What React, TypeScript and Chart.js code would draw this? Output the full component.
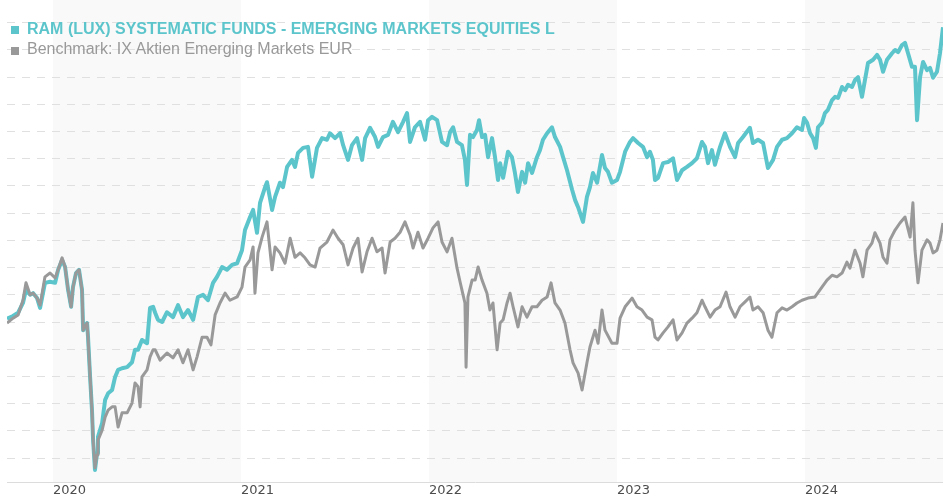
import React, { useEffect, useRef } from "react";
import { Chart, registerables } from "chart.js";

Chart.register(...registerables);

// ---- data (x = fractional year, y = indexed value, start = 100) ----
const ramDates = [
  2019.755, 2019.787, 2019.814, 2019.84, 2019.856, 2019.878, 2019.894, 2019.915, 2019.931, 2019.957,
  2019.984, 2020.011, 2020.027, 2020.048, 2020.064, 2020.08, 2020.096, 2020.106, 2020.122, 2020.138,
  2020.154, 2020.16, 2020.181, 2020.186, 2020.197, 2020.207, 2020.213, 2020.223, 2020.234, 2020.239,
  2020.261, 2020.277, 2020.293, 2020.314, 2020.33, 2020.346, 2020.367, 2020.394, 2020.42, 2020.436,
  2020.452, 2020.473, 2020.5, 2020.516, 2020.532, 2020.543, 2020.558, 2020.58, 2020.606, 2020.638,
  2020.665, 2020.691, 2020.718, 2020.745, 2020.771, 2020.798, 2020.824, 2020.851, 2020.872, 2020.899,
  2020.925, 2020.952, 2020.979, 2021.005, 2021.021, 2021.048, 2021.064, 2021.085, 2021.101, 2021.128,
  2021.138, 2021.165, 2021.181, 2021.207, 2021.223, 2021.245, 2021.271, 2021.287, 2021.303, 2021.33,
  2021.356, 2021.378, 2021.404, 2021.431, 2021.457, 2021.473, 2021.5, 2021.527, 2021.543, 2021.569,
  2021.59, 2021.617, 2021.644, 2021.66, 2021.686, 2021.713, 2021.729, 2021.755, 2021.782, 2021.808,
  2021.835, 2021.862, 2021.883, 2021.899, 2021.925, 2021.952, 2021.979, 2021.995, 2022.016, 2022.043,
  2022.069, 2022.096, 2022.112, 2022.128, 2022.149, 2022.175, 2022.191, 2022.202, 2022.218, 2022.234,
  2022.255, 2022.266, 2022.282, 2022.298, 2022.314, 2022.335, 2022.351, 2022.367, 2022.378, 2022.394,
  2022.42, 2022.441, 2022.457, 2022.473, 2022.495, 2022.511, 2022.527, 2022.548, 2022.574, 2022.59,
  2022.606, 2022.628, 2022.654, 2022.67, 2022.697, 2022.713, 2022.734, 2022.761, 2022.777, 2022.793,
  2022.819, 2022.84, 2022.856, 2022.872, 2022.894, 2022.92, 2022.936, 2022.952, 2022.973, 2023.0,
  2023.016, 2023.043, 2023.069, 2023.085, 2023.112, 2023.138, 2023.16, 2023.175, 2023.191, 2023.202,
  2023.218, 2023.245, 2023.271, 2023.298, 2023.319, 2023.346, 2023.372, 2023.399, 2023.425, 2023.452,
  2023.468, 2023.484, 2023.505, 2023.521, 2023.548, 2023.574, 2023.601, 2023.628, 2023.644, 2023.67,
  2023.707, 2023.723, 2023.75, 2023.777, 2023.803, 2023.83, 2023.851, 2023.878, 2023.904, 2023.931,
  2023.957, 2023.984, 2023.995, 2024.011, 2024.027, 2024.043, 2024.058, 2024.069, 2024.09, 2024.106,
  2024.122, 2024.144, 2024.16, 2024.176, 2024.197, 2024.213, 2024.229, 2024.25, 2024.266, 2024.282,
  2024.303, 2024.319, 2024.335, 2024.362, 2024.383, 2024.399, 2024.415, 2024.436, 2024.463, 2024.479,
  2024.495, 2024.516, 2024.532, 2024.548, 2024.569, 2024.585, 2024.596, 2024.612, 2024.628, 2024.649,
  2024.665, 2024.681, 2024.702, 2024.718, 2024.734,
];
const ramValues = [
  100.6, 101.1, 101.7, 103.5, 105.9, 105.0, 105.3, 104.4, 102.6, 107.2,
  107.4, 107.2, 109.6, 111.4, 110.1, 105.9, 102.8, 106.4, 109.0, 109.6,
  105.9, 98.5, 99.8, 97.2, 89.9, 83.8, 78.3, 72.8, 75.9, 78.9,
  81.4, 85.7, 86.9, 87.5, 89.9, 91.2, 91.5, 91.7, 92.6, 94.9,
  94.9, 96.7, 96.1, 102.6, 102.8, 101.7, 100.4, 100.0, 101.8, 100.9,
  103.1, 100.9, 102.2, 100.4, 104.6, 105.0, 104.0, 107.2, 108.3, 110.1,
  109.6, 110.5, 110.8, 113.2, 116.9, 119.3, 120.6, 116.4, 121.9, 124.8,
  125.7, 120.6, 123.0, 125.6, 124.8, 128.5, 129.8, 128.5, 131.1, 132.0,
  132.2, 126.7, 132.0, 133.8, 133.5, 134.7, 133.8, 134.7, 132.5, 129.8,
  132.5, 133.8, 129.8, 133.8, 135.7, 134.0, 132.2, 134.0, 134.4, 136.8,
  134.9, 136.8, 138.4, 133.1, 135.8, 136.8, 133.5, 137.1, 137.7, 137.1,
  133.1, 132.5, 134.9, 135.8, 133.1, 132.5, 129.8, 125.2, 134.4, 134.0,
  135.3, 137.1, 134.0, 134.4, 130.3, 133.8, 130.3, 126.1, 129.2, 126.5,
  131.3, 130.3, 127.4, 123.9, 127.6, 125.6, 129.2, 127.4, 130.3, 131.6,
  133.5, 134.7, 135.8, 134.0, 132.2, 130.3, 127.9, 124.3, 122.4, 121.1,
  118.4, 123.0, 124.8, 127.4, 125.6, 130.7, 128.3, 127.6, 125.6, 126.1,
  127.6, 131.3, 133.1, 133.8, 132.9, 132.2, 130.3, 131.3, 129.8, 126.1,
  126.5, 129.2, 129.4, 130.1, 126.1, 127.9, 128.5, 129.2, 130.1, 133.1,
  132.2, 129.2, 131.6, 128.9, 132.2, 134.7, 132.2, 130.3, 132.9, 134.0,
  135.7, 132.9, 133.5, 132.9, 128.3, 129.8, 132.2, 133.5, 133.8, 134.7,
  135.8, 135.3, 137.5, 136.6, 134.7, 133.8, 132.0, 135.8, 136.6, 138.4,
  139.0, 140.8, 141.4, 141.2, 143.2, 142.6, 143.6, 143.2, 144.5, 145.0,
  141.4, 144.5, 147.6, 148.2, 149.1, 148.2, 146.0, 148.2, 149.4, 150.0,
  149.6, 150.9, 151.3, 149.4, 146.9, 146.9, 137.1, 145.0, 147.8, 146.3,
  146.7, 144.9, 146.0, 149.4, 154.2,
];

const benchDates = [
  2019.755, 2019.787, 2019.814, 2019.84, 2019.856, 2019.878, 2019.894, 2019.915, 2019.931, 2019.957,
  2019.984, 2020.011, 2020.027, 2020.048, 2020.064, 2020.08, 2020.096, 2020.106, 2020.122, 2020.138,
  2020.154, 2020.16, 2020.181, 2020.186, 2020.197, 2020.207, 2020.213, 2020.223, 2020.234, 2020.239,
  2020.261, 2020.277, 2020.293, 2020.314, 2020.33, 2020.346, 2020.367, 2020.394, 2020.42, 2020.436,
  2020.452, 2020.463, 2020.473, 2020.5, 2020.516, 2020.532, 2020.543, 2020.558, 2020.569, 2020.606,
  2020.638, 2020.665, 2020.691, 2020.718, 2020.745, 2020.766, 2020.793, 2020.819, 2020.84, 2020.862,
  2020.888, 2020.915, 2020.941, 2020.979, 2021.005, 2021.021, 2021.048, 2021.064, 2021.074, 2021.09,
  2021.112, 2021.138, 2021.165, 2021.181, 2021.207, 2021.234, 2021.261, 2021.287, 2021.314, 2021.34,
  2021.367, 2021.394, 2021.42, 2021.457, 2021.489, 2021.516, 2021.543, 2021.569, 2021.596, 2021.622,
  2021.644, 2021.67, 2021.697, 2021.723, 2021.75, 2021.766, 2021.793, 2021.819, 2021.846, 2021.872,
  2021.899, 2021.915, 2021.941, 2021.968, 2021.995, 2022.021, 2022.048, 2022.069, 2022.096, 2022.122,
  2022.149, 2022.165, 2022.181, 2022.191, 2022.197, 2022.207, 2022.229, 2022.245, 2022.261, 2022.282,
  2022.308, 2022.324, 2022.34, 2022.362, 2022.378, 2022.394, 2022.415, 2022.431, 2022.447, 2022.473,
  2022.495, 2022.521, 2022.548, 2022.574, 2022.601, 2022.628, 2022.649, 2022.67, 2022.697, 2022.723,
  2022.75, 2022.766, 2022.793, 2022.814, 2022.84, 2022.856, 2022.883, 2022.899, 2022.92, 2022.936,
  2022.973, 2023.0, 2023.016, 2023.043, 2023.08, 2023.106, 2023.133, 2023.16, 2023.186, 2023.202,
  2023.218, 2023.245, 2023.271, 2023.298, 2023.319, 2023.346, 2023.372, 2023.399, 2023.425, 2023.452,
  2023.468, 2023.495, 2023.521, 2023.548, 2023.58, 2023.601, 2023.628, 2023.654, 2023.681, 2023.707,
  2023.723, 2023.75, 2023.777, 2023.803, 2023.824, 2023.851, 2023.878, 2023.904, 2023.931, 2023.957,
  2023.984, 2024.016, 2024.053, 2024.09, 2024.117, 2024.144, 2024.17, 2024.197, 2024.223, 2024.239,
  2024.266, 2024.293, 2024.308, 2024.33, 2024.356, 2024.372, 2024.399, 2024.415, 2024.436, 2024.452,
  2024.479, 2024.505, 2024.532, 2024.559, 2024.574, 2024.585, 2024.601, 2024.622, 2024.649, 2024.665,
  2024.681, 2024.702, 2024.718, 2024.734,
];
const benchValues = [
  99.8, 100.7, 101.3, 104.0, 107.2, 105.0, 105.3, 104.4, 103.1, 108.3,
  109.0, 108.1, 109.6, 111.8, 110.1, 105.9, 102.8, 106.4, 109.0, 109.6,
  105.9, 98.5, 99.8, 97.2, 89.9, 83.8, 78.3, 73.2, 75.6, 78.3,
  80.1, 82.5, 83.8, 84.4, 84.4, 80.7, 83.3, 83.3, 85.1, 88.8,
  88.1, 84.4, 89.9, 91.2, 93.6, 94.9, 94.9, 93.8, 93.0, 94.3,
  93.4, 94.9, 92.5, 94.9, 91.2, 93.6, 97.2, 97.2, 95.8, 101.3,
  103.5, 105.3, 104.0, 104.6, 106.4, 110.1, 111.4, 113.8, 105.3, 112.7,
  115.6, 118.4, 109.6, 113.8, 112.7, 110.8, 115.4, 111.9, 112.7, 111.8,
  110.5, 110.1, 113.6, 114.7, 116.9, 115.4, 114.2, 110.5, 113.6, 115.4,
  109.2, 112.9, 115.4, 112.9, 113.6, 109.0, 114.7, 115.4, 116.5, 118.4,
  116.0, 113.6, 116.5, 113.6, 115.4, 117.3, 118.4, 114.7, 112.9, 115.4,
  109.9, 107.4, 105.0, 103.5, 91.7, 104.6, 107.7, 107.7, 110.1, 107.7,
  105.3, 102.2, 103.5, 94.9, 99.8, 100.4, 103.5, 105.3, 102.8, 99.1,
  102.8, 100.9, 102.8, 102.8, 104.0, 104.6, 107.2, 103.5, 102.2, 99.8,
  94.9, 92.5, 90.6, 87.5, 92.5, 95.4, 98.5, 96.1, 102.2, 98.5,
  96.1, 96.1, 100.7, 102.8, 104.4, 102.8, 102.2, 100.9, 100.4, 97.2,
  96.7, 98.0, 99.1, 100.4, 96.7, 98.0, 99.8, 100.7, 101.7, 104.0,
  102.8, 100.9, 102.2, 102.8, 105.5, 102.8, 100.9, 102.8, 103.7, 104.6,
  102.2, 102.8, 101.7, 98.5, 97.2, 101.7, 102.6, 102.2, 102.8, 103.5,
  104.0, 104.4, 104.6, 106.4, 107.7, 108.6, 108.3, 109.0, 111.0, 109.9,
  113.2, 110.8, 108.3, 113.2, 114.5, 116.4, 114.5, 111.9, 110.8, 115.1,
  116.9, 118.2, 119.3, 115.6, 121.9, 113.2, 107.2, 113.2, 115.1, 114.5,
  112.7, 113.2, 115.1, 118.2,
];

const yearTicks = [2020, 2021, 2022, 2023, 2024];
const shadedYears = [2020, 2022, 2024];
const gridValues = [75, 80, 85, 90, 95, 100, 105, 110, 115, 120, 125, 130, 135, 140, 145, 150, 155];

const RAM_LABEL = "RAM (LUX) SYSTEMATIC FUNDS - EMERGING MARKETS EQUITIES L";
const BENCH_LABEL = "Benchmark: IX Aktien Emerging Markets EUR";

const TEAL = "#5cc5cc";
const GREY = "#999999";
const BAND = "#f9f9f9";

const bandPlugin = {
  id: "yearBands",
  beforeDraw(chart: any) {
    const { ctx, chartArea, scales } = chart;
    const x = scales.x;
    ctx.save();
    ctx.fillStyle = BAND;
    for (const yr of shadedYears) {
      const l = Math.max(x.getPixelForValue(yr), chartArea.left);
      const r = Math.min(x.getPixelForValue(yr + 1), chartArea.right);
      if (r > l) ctx.fillRect(l, chartArea.top, r - l, chartArea.bottom - chartArea.top);
    }
    ctx.restore();
  },
};

export default function App() {
  const ref = useRef<HTMLCanvasElement | null>(null);

  useEffect(() => {
    if (!ref.current) return;
    const chart = new Chart(ref.current, {
      type: "line",
      data: {
        datasets: [
          {
            label: BENCH_LABEL,
            data: benchDates.map((d, i) => ({ x: d, y: benchValues[i] })),
            borderColor: GREY,
            borderWidth: 3,
            pointRadius: 0,
            tension: 0,
            fill: false,
            borderJoinStyle: "round",
          },
          {
            label: RAM_LABEL,
            data: ramDates.map((d, i) => ({ x: d, y: ramValues[i] })),
            borderColor: TEAL,
            borderWidth: 4,
            pointRadius: 0,
            tension: 0,
            fill: false,
            borderJoinStyle: "round",
          },
        ],
      },
      options: {
        animation: false,
        responsive: false,
        events: [],
        layout: { padding: { left: 7, right: 0, top: 0, bottom: 0 } },
        plugins: { legend: { display: false }, tooltip: { enabled: false } },
        scales: {
          x: {
            type: "linear",
            min: 2019.755,
            max: 2024.734,
            position: "bottom",
            afterBuildTicks: (s: any) => {
              s.ticks = yearTicks.map((v) => ({ value: v }));
            },
            afterFit: (s: any) => {
              s.height = 18;
            },
            grid: { display: false, drawTicks: false },
            border: { display: true, color: "#dcdcdc", width: 1 },
            ticks: {
              align: "start",
              padding: 1,
              color: "#4d4d4d",
              font: { family: "'DejaVu Sans'", size: 13 },
              autoSkip: false,
              maxRotation: 0,
              callback: (v: any) => String(v),
            },
          },
          y: {
            type: "linear",
            min: 70.59,
            max: 159.19,
            afterBuildTicks: (s: any) => {
              s.ticks = gridValues.map((v) => ({ value: v }));
            },
            afterFit: (s: any) => {
              s.width = 0;
            },
            ticks: { display: false },
            grid: { color: "#e0e0e0", lineWidth: 1, drawTicks: false, tickLength: 0 },
            border: { display: false, dash: [8, 7] },
          },
        },
      },
      plugins: [bandPlugin],
    });
    return () => chart.destroy();
  }, []);

  const textBase: React.CSSProperties = {
    position: "absolute",
    left: 27,
    fontFamily: "'Liberation Sans', Arial, sans-serif",
    fontSize: 16,
    lineHeight: "16px",
    whiteSpace: "nowrap",
  };

  return (
    <div style={{ position: "fixed", left: 0, top: 0, width: 943, height: 500, background: "#fff", overflow: "hidden" }}>
      <canvas ref={ref} width={943} height={500} style={{ display: "block" }} />
      <div style={{ position: "absolute", left: 11, top: 26, width: 8, height: 8, background: TEAL }} />
      <div style={{ ...textBase, top: 21, fontWeight: "bold", color: TEAL }}>{RAM_LABEL}</div>
      <div style={{ position: "absolute", left: 11, top: 47, width: 8, height: 8, background: GREY }} />
      <div style={{ ...textBase, top: 41, color: GREY }}>{BENCH_LABEL}</div>
    </div>
  );
}
